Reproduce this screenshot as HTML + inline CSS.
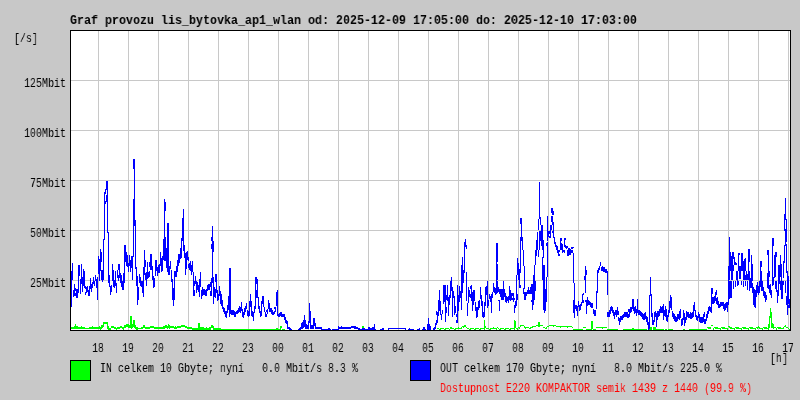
<!DOCTYPE html>
<html><head><meta charset="utf-8"><title>Graf provozu lis_bytovka_ap1_wlan</title>
<style>
html,body{margin:0;padding:0;background:#c8c8c8;}
#g{position:relative;width:800px;height:400px;background:#c8c8c8;overflow:hidden;}
#g svg{position:absolute;left:0;top:0;}
.t{position:absolute;font-family:"Liberation Mono",monospace;font-size:13.5px;line-height:20px;height:20px;white-space:pre;transform-origin:0 0;will-change:transform;}
</style></head><body>
<div id="g">
<svg width="800" height="400" viewBox="0 0 800 400" shape-rendering="crispEdges">
<rect x="70.5" y="30.5" width="720" height="300" fill="#fff" stroke="#000" stroke-width="1"/>
<path d="M71 80.5H790M71 130.5H790M71 180.5H790M71 230.5H790M71 280.5H790M98.5 31V330M128.5 31V330M158.5 31V330M188.5 31V330M218.5 31V330M248.5 31V330M278.5 31V330M308.5 31V330M338.5 31V330M368.5 31V330M398.5 31V330M428.5 31V330M458.5 31V330M488.5 31V330M518.5 31V330M548.5 31V330M578.5 31V330M608.5 31V330M638.5 31V330M668.5 31V330M698.5 31V330M728.5 31V330M758.5 31V330M788.5 31V330" stroke="#c8c8c8" stroke-width="1" fill="none"/>
<path d="M71.5 327V329M72.5 327V329M73.5 327V329M74.5 326V329M75.5 324V329M76.5 326V329M77.5 326V329M78.5 327V329M79.5 327V329M80.5 327V329M81.5 326V329M82.5 327V329M83.5 327V329M84.5 327V329M85.5 328V329M86.5 328V329M87.5 328V329M88.5 328V329M89.5 327V329M90.5 327V329M91.5 327V329M92.5 326V329M93.5 327V329M94.5 327V329M95.5 327V329M96.5 327V329M97.5 327V329M98.5 327V329M99.5 326V329M100.5 327V330M101.5 325V329M102.5 325V328M103.5 322V327M104.5 322V324M105.5 322V324M106.5 322V324M107.5 322V329M108.5 326V330M109.5 328V330M110.5 328V330M111.5 326V328M112.5 326V328M113.5 326V328M114.5 327V329M115.5 327V329M116.5 328V330M117.5 327V329M118.5 327V329M119.5 327V329M120.5 326V328M121.5 326V328M122.5 327V329M123.5 327V330M124.5 325V328M125.5 325V328M126.5 324V327M127.5 324V327M128.5 324V328M129.5 325V328M130.5 316V328M131.5 316V329M132.5 324V328M133.5 320V327M134.5 320V328M135.5 325V329M136.5 327V330M137.5 327V330M138.5 328V329M139.5 328V329M140.5 328V329M141.5 327V329M142.5 327V329M143.5 325V328M144.5 325V328M145.5 327V329M146.5 327V329M147.5 327V329M148.5 327V329M149.5 327V329M150.5 326V328M151.5 326V328M152.5 326V328M153.5 326V328M154.5 327V329M155.5 327V329M156.5 327V329M157.5 327V329M158.5 327V329M159.5 327V329M160.5 327V329M161.5 327V329M162.5 327V329M163.5 326V329M164.5 326V329M165.5 325V328M166.5 325V328M167.5 326V329M168.5 324V328M169.5 325V329M170.5 326V328M171.5 326V328M172.5 326V328M173.5 326V328M174.5 327V329M175.5 326V329M176.5 327V329M177.5 326V328M178.5 326V328M179.5 326V328M180.5 326V328M181.5 325V327M182.5 325V327M183.5 325V327M184.5 325V327M185.5 326V328M186.5 326V328M187.5 327V329M188.5 327V329M189.5 327V329M190.5 327V329M191.5 327V329M192.5 328V330M193.5 328V330M194.5 328V330M195.5 328V330M196.5 328V330M197.5 328V330M198.5 323V330M199.5 323V330M200.5 327V330M201.5 327V330M202.5 327V330M203.5 327V330M204.5 328V330M205.5 328V330M206.5 327V330M207.5 328V330M208.5 328V330M209.5 327V330M210.5 327V330M211.5 325V328M212.5 325V328M213.5 326V330M214.5 328V330M215.5 328V330M216.5 328V330M217.5 328V330M218.5 328V330M219.5 328V330M220.5 328V330M221.5 329V330M222.5 329V330M223.5 329V330M224.5 329V330M225.5 329V330M226.5 329V330M227.5 329V330M228.5 329V330M229.5 329V330M230.5 329V330M231.5 329V330M232.5 329V330M233.5 329V330M234.5 329V330M235.5 329V330M236.5 329V330M237.5 329V330M238.5 329V330M239.5 329V330M240.5 329V330M241.5 329V330M242.5 329V330M243.5 329V330M244.5 329V330M245.5 329V330M246.5 329V330M247.5 329V330M248.5 329V330M249.5 329V330M250.5 329V330M251.5 329V330M252.5 329V330M253.5 329V330M254.5 329V330M255.5 329V330M256.5 329V330M257.5 329V330M258.5 329V330M259.5 329V330M260.5 329V330M261.5 329V330M262.5 329V330M263.5 329V330M264.5 329V330M265.5 329V330M266.5 329V330M267.5 329V330M268.5 329V330M269.5 329V330M270.5 329V330M271.5 329V330M272.5 329V330M273.5 329V330M274.5 329V330M275.5 329V330M276.5 328V330M277.5 328V330M278.5 329V330M279.5 329V330M280.5 326V330M281.5 326V328M282.5 329V330M283.5 329V330M284.5 329V330M362.5 326V329M363.5 326V329M437.5 328V329M438.5 328V329M439.5 329V330M440.5 328V330M441.5 328V329M442.5 328V329M443.5 328V329M444.5 329V330M445.5 328V330M446.5 328V329M447.5 328V329M448.5 328V329M449.5 329V330M450.5 327V329M451.5 327V329M452.5 328V329M453.5 328V329M454.5 329V330M455.5 328V330M456.5 328V329M457.5 328V329M458.5 327V329M459.5 328V329M460.5 328V329M461.5 327V329M462.5 326V327M463.5 326V328M464.5 325V327M465.5 325V327M466.5 327V328M467.5 328V329M468.5 328V329M469.5 329V330M470.5 328V330M471.5 328V329M472.5 328V329M473.5 328V329M474.5 329V330M475.5 328V330M476.5 328V329M477.5 328V329M478.5 328V329M479.5 329V330M480.5 328V330M481.5 328V329M482.5 328V329M483.5 328V329M484.5 320V330M485.5 326V328M486.5 328V329M487.5 328V329M488.5 328V329M489.5 329V330M490.5 328V330M491.5 328V329M492.5 328V329M493.5 327V329M494.5 328V329M495.5 328V329M496.5 328V330M497.5 327V328M498.5 328V329M499.5 329V330M500.5 328V330M501.5 328V329M502.5 328V329M503.5 328V329M504.5 329V330M505.5 328V330M506.5 328V329M507.5 328V329M508.5 328V329M509.5 329V330M510.5 328V330M511.5 328V329M512.5 328V329M513.5 328V329M514.5 320V330M515.5 321V328M516.5 328V329M517.5 328V330M518.5 327V328M519.5 327V329M520.5 325V327M521.5 325V326M522.5 325V326M523.5 325V326M524.5 326V328M525.5 327V329M526.5 327V328M527.5 327V328M528.5 327V328M529.5 328V329M530.5 327V329M531.5 327V328M532.5 326V328M533.5 326V327M534.5 326V327M535.5 326V327M536.5 325V326M537.5 325V326M538.5 322V327M539.5 322V327M540.5 325V326M541.5 325V326M542.5 325V326M543.5 327V328M544.5 327V328M545.5 328V329M546.5 327V329M547.5 326V327M548.5 326V327M549.5 325V326M550.5 325V326M551.5 325V326M552.5 325V326M553.5 325V327M554.5 325V326M555.5 325V326M556.5 326V327M557.5 326V327M558.5 326V327M559.5 326V327M560.5 326V328M561.5 326V327M562.5 326V327M563.5 326V327M564.5 326V327M565.5 326V327M566.5 326V327M567.5 326V328M568.5 326V327M569.5 326V327M570.5 326V327M571.5 326V327M572.5 327V328M573.5 329V330M574.5 329V330M575.5 329V330M576.5 329V330M577.5 329V330M578.5 329V330M579.5 329V330M580.5 329V330M581.5 329V330M582.5 329V330M583.5 327V328M584.5 327V328M585.5 327V328M586.5 329V330M587.5 329V330M588.5 329V330M589.5 329V330M590.5 329V330M591.5 321V330M592.5 321V329M593.5 329V330M594.5 329V330M595.5 329V330M596.5 327V328M597.5 327V328M598.5 327V328M599.5 327V328M600.5 327V328M601.5 327V328M602.5 327V329M603.5 327V328M604.5 327V328M605.5 327V328M606.5 327V328M607.5 329V330M608.5 329V330M609.5 329V330M610.5 329V330M611.5 329V330M612.5 329V330M613.5 329V330M614.5 329V330M615.5 329V330M616.5 329V330M617.5 329V330M623.5 329V330M624.5 329V330M625.5 329V330M626.5 329V330M627.5 329V330M628.5 329V330M629.5 329V330M630.5 329V330M631.5 329V330M632.5 328V330M633.5 328V330M634.5 329V330M635.5 329V330M636.5 329V330M637.5 329V330M638.5 329V330M639.5 329V330M640.5 329V330M641.5 329V330M642.5 329V330M643.5 329V330M644.5 329V330M645.5 329V330M646.5 329V330M649.5 327V330M650.5 327V330M651.5 327V330M653.5 327V330M654.5 327V330M655.5 327V330M656.5 329V330M657.5 329V330M658.5 329V330M659.5 329V330M660.5 329V330M661.5 329V330M662.5 329V330M663.5 329V330M665.5 329V330M666.5 329V330M668.5 329V330M669.5 329V330M670.5 329V330M671.5 329V330M672.5 329V330M683.5 329V330M684.5 329V330M689.5 329V330M690.5 329V330M691.5 329V330M692.5 329V330M693.5 329V330M694.5 329V330M695.5 329V330M696.5 329V330M697.5 329V330M698.5 329V330M699.5 329V330M700.5 329V330M701.5 329V330M702.5 329V330M703.5 329V330M704.5 329V330M705.5 329V330M706.5 329V330M707.5 327V328M708.5 327V329M709.5 327V329M710.5 327V329M711.5 325V326M712.5 325V326M713.5 328V330M714.5 327V328M715.5 327V329M716.5 327V329M717.5 327V329M718.5 328V329M719.5 328V329M720.5 328V330M721.5 327V328M722.5 327V329M723.5 327V329M724.5 327V329M725.5 328V329M726.5 328V329M727.5 328V330M728.5 326V327M729.5 326V328M730.5 327V329M731.5 327V329M732.5 328V329M733.5 328V329M734.5 328V330M735.5 327V328M736.5 327V329M737.5 327V329M738.5 327V329M739.5 328V329M740.5 328V329M741.5 328V330M742.5 327V328M743.5 327V329M744.5 327V329M745.5 327V329M746.5 328V329M747.5 328V329M748.5 328V330M749.5 327V328M750.5 327V329M751.5 327V329M752.5 327V329M753.5 328V329M754.5 328V329M755.5 328V330M756.5 327V328M757.5 327V329M758.5 326V328M759.5 327V329M760.5 328V329M761.5 328V329M762.5 328V330M763.5 327V328M764.5 327V329M765.5 327V329M766.5 327V329M767.5 328V329M768.5 324V330M769.5 316V328M770.5 308V318M771.5 312V328M772.5 323V328M773.5 324V329M774.5 327V328M775.5 327V328M776.5 328V330M777.5 327V328M778.5 327V329M779.5 327V329M780.5 327V329M781.5 328V329M782.5 328V329M783.5 327V329M784.5 326V327M785.5 325V327M786.5 327V328M787.5 327V328M788.5 328V329M789.5 329V330" stroke="#0f0" stroke-width="1" fill="none"/>
<path d="M71.5 271V307M72.5 263V280M73.5 290V297M74.5 284V296M75.5 288V291M75.5 293V296M76.5 289V298M77.5 289V298M78.5 265V293M79.5 265V276M80.5 279V294M81.5 264V284M82.5 277V292M83.5 269V286M84.5 271V288M85.5 286V289M85.5 292V295M86.5 287V293M87.5 286V292M88.5 290V296M89.5 286V296M90.5 278V289M91.5 284V292M92.5 282V288M93.5 277V284M94.5 281V286M95.5 275V281M96.5 279V288M97.5 277V300M98.5 256V274M99.5 259V281M100.5 249V271M101.5 252V262M101.5 270V280M102.5 270V282M103.5 239V280M104.5 192V240M105.5 189V194M105.5 201V204M106.5 181V190M106.5 195V202M107.5 181V233M108.5 232V283M109.5 275V287M110.5 286V295M111.5 285V292M112.5 264V281M113.5 270V287M114.5 280V288M115.5 271V286M116.5 283V293M117.5 270V278M118.5 264V270M118.5 275V281M119.5 264V278M120.5 273V283M121.5 275V287M122.5 281V290M123.5 273V290M124.5 245V283M125.5 245V262M126.5 252V266M127.5 255V267M128.5 263V272M129.5 255V266M130.5 260V272M131.5 256V268M132.5 256V280M133.5 159V169M133.5 199V257M134.5 159V226M135.5 220V269M136.5 267V286M137.5 276V305M138.5 287V300M139.5 274V283M140.5 277V286M141.5 281V287M142.5 281V293M143.5 267V297M144.5 250V275M145.5 260V267M145.5 273V280M146.5 272V286M147.5 262V279M148.5 272V278M149.5 262V267M149.5 271V277M150.5 254V270M151.5 254V270M152.5 266V280M153.5 276V288M154.5 278V287M155.5 260V276M156.5 260V271M157.5 267V276M158.5 265V273M159.5 264V273M160.5 252V266M161.5 258V272M162.5 256V271M163.5 239V260M164.5 199V261M165.5 202V211M165.5 237V261M166.5 248V268M167.5 223V272M168.5 223V275M169.5 266V275M170.5 261V269M171.5 270V282M172.5 279V300M173.5 288V306M174.5 271V300M175.5 271V277M176.5 266V277M177.5 260V272M178.5 254V266M179.5 254V263M180.5 248V259M181.5 238V258M182.5 218V241M183.5 209V251M184.5 245V258M185.5 253V275M186.5 252V269M187.5 251V260M188.5 257V261M188.5 264V268M189.5 263V270M190.5 261V271M191.5 265V275M192.5 261V272M193.5 272V296M194.5 281V286M194.5 290V296M195.5 276V284M196.5 281V293M197.5 282V290M198.5 285V292M199.5 279V297M200.5 272V287M201.5 290V299M202.5 287V296M203.5 289V295M204.5 289V295M205.5 290V296M206.5 289V296M207.5 285V291M208.5 284V290M209.5 284V290M210.5 282V287M210.5 291V296M211.5 237V241M211.5 244V249M211.5 278V296M212.5 226V283M213.5 241V252M213.5 277V304M214.5 287V297M215.5 274V282M215.5 289V298M216.5 274V293M217.5 290V301M218.5 294V300M219.5 286V296M220.5 291V304M221.5 294V306M222.5 300V309M223.5 307V312M224.5 308V314M225.5 311V317M226.5 311V318M227.5 305V313M228.5 296V310M229.5 268V317M230.5 268V314M231.5 310V315M232.5 310V315M233.5 310V315M234.5 311V317M235.5 312V317M236.5 311V314M237.5 310V314M238.5 308V313M239.5 306V312M240.5 307V313M241.5 302V311M242.5 309V317M243.5 312V318M244.5 308V315M245.5 306V312M246.5 303V309M247.5 310V316M248.5 311V317M249.5 301V316M250.5 294V307M251.5 301V316M252.5 311V317M253.5 312V321M254.5 306V313M255.5 277V309M256.5 277V284M256.5 290V298M257.5 279V298M258.5 297V309M259.5 306V313M260.5 311V317M261.5 301V316M262.5 296V304M263.5 296V307M264.5 307V312M265.5 312V317M266.5 310V312M266.5 314V317M267.5 309V314M268.5 300V309M269.5 303V312M270.5 308V312M271.5 308V314M272.5 310V315M273.5 312V315M274.5 307V309M274.5 311V314M275.5 307V312M276.5 292V306M277.5 290V316M278.5 314V317M279.5 313V317M280.5 312V316M281.5 312V317M282.5 314V317M283.5 314V317M284.5 314V320M285.5 317V323M286.5 320V324M287.5 321V329M288.5 327V329M289.5 327V330M290.5 328V330M291.5 329V330M298.5 329V330M299.5 328V330M300.5 327V330M301.5 323V329M302.5 322V329M303.5 320V328M304.5 315V327M305.5 320V329M306.5 324V329M307.5 325V329M308.5 321V329M309.5 303V323M310.5 311V329M311.5 325V329M312.5 325V329M313.5 318V329M314.5 318V326M315.5 323V329M316.5 327V329M317.5 327V329M318.5 327V329M319.5 327V329M320.5 327V329M321.5 327V330M322.5 329V330M323.5 329V330M324.5 329V330M325.5 329V330M326.5 329V330M327.5 329V330M328.5 328V330M329.5 328V330M330.5 329V330M332.5 329V330M333.5 329V330M334.5 329V330M335.5 329V330M336.5 329V330M337.5 329V330M338.5 326V330M339.5 327V329M340.5 327V329M341.5 326V329M342.5 327V329M343.5 327V329M344.5 327V329M345.5 327V329M346.5 327V329M347.5 327V329M348.5 327V329M349.5 327V329M350.5 327V329M351.5 326V328M352.5 326V328M353.5 326V328M354.5 326V329M355.5 326V329M356.5 327V329M357.5 327V329M358.5 328V330M359.5 328V330M360.5 329V330M361.5 329V330M362.5 328V330M363.5 328V330M364.5 328V330M365.5 329V330M366.5 329V330M367.5 329V330M368.5 327V330M369.5 327V330M370.5 328V330M371.5 328V330M372.5 327V330M373.5 327V330M374.5 324V330M375.5 329V330M380.5 329V330M381.5 329V330M382.5 328V330M383.5 328V330M388.5 328V330M389.5 328V329M390.5 328V329M391.5 328V329M392.5 328V329M393.5 328V329M394.5 328V329M395.5 328V329M396.5 328V329M397.5 328V329M398.5 328V329M399.5 328V329M400.5 328V329M401.5 328V329M402.5 328V329M403.5 328V329M404.5 328V329M405.5 328V330M408.5 329V330M409.5 328V330M410.5 329V330M411.5 329V330M412.5 329V330M413.5 329V330M417.5 329V330M418.5 329V330M419.5 328V330M422.5 329V330M423.5 327V330M424.5 327V330M425.5 329V330M427.5 324V330M428.5 318V330M429.5 324V330M430.5 326V330M433.5 328V330M434.5 327V330M435.5 323V329M436.5 311V315M436.5 320V325M437.5 312V323M438.5 300V316M439.5 290V311M440.5 301V315M441.5 314V320M442.5 310V314M443.5 285V304M444.5 285V302M445.5 285V322M446.5 295V300M446.5 307V313M447.5 285V301M448.5 297V316M449.5 295V305M450.5 281V298M451.5 277V291M452.5 287V317M453.5 291V298M454.5 296V315M455.5 306V313M456.5 314V317M456.5 320V323M457.5 285V323M458.5 295V311M459.5 286V302M460.5 291V298M461.5 265V310M462.5 257V293M463.5 270V283M464.5 242V273M465.5 239V247M466.5 245V249M466.5 272V301M467.5 303V316M468.5 287V303M469.5 290V297M470.5 286V289M470.5 294V298M471.5 285V301M472.5 292V311M473.5 290V305M474.5 290V301M475.5 302V311M476.5 307V318M477.5 307V317M478.5 301V310M479.5 300V308M480.5 287V299M481.5 295V306M482.5 301V317M483.5 312V318M484.5 302V317M485.5 287V306M486.5 286V295M487.5 281V308M488.5 300V306M489.5 294V299M490.5 296V302M491.5 294V313M492.5 292V298M493.5 283V292M494.5 287V293M495.5 288V295M496.5 243V294M497.5 243V262M497.5 264V280M497.5 281V293M498.5 287V292M498.5 300V301M499.5 289V294M499.5 300V311M500.5 289V297M501.5 289V300M502.5 289V300M503.5 281V300M504.5 289V297M505.5 293V302M506.5 296V303M507.5 297V301M508.5 296V303M509.5 286V300M510.5 290V301M511.5 293V300M512.5 293V296M512.5 298V300M513.5 293V302M514.5 298V300M514.5 305V313M515.5 301V308M516.5 275V306M517.5 258V275M517.5 294V300M518.5 263V280M519.5 269V288M520.5 218V224M520.5 237V273M520.5 285V288M521.5 218V241M522.5 237V250M523.5 250V266M523.5 288V294M524.5 266V289M524.5 292V300M525.5 292V300M526.5 292V296M527.5 290V294M528.5 287V294M529.5 290V294M530.5 287V294M531.5 284V294M531.5 300V302M532.5 284V310M533.5 275V305M534.5 265V300M535.5 250V265M535.5 281V291M536.5 240V256M537.5 232V250M538.5 219V230M538.5 250V257M539.5 182V219M539.5 231V250M540.5 217V225M540.5 231V241M541.5 225V246M542.5 225V250M542.5 257V280M543.5 240V258M543.5 265V310M544.5 265V313M545.5 289V311M546.5 243V246M546.5 277V302M547.5 216V241M547.5 242V277M548.5 231V237M549.5 231V234M549.5 236V238M550.5 225V238M551.5 208V213M551.5 216V222M551.5 225V230M552.5 208V215M552.5 216V225M552.5 231V233M553.5 211V215M553.5 222V238M554.5 237V244M555.5 242V247M556.5 245V250M557.5 246V253M558.5 250V256M559.5 250V252M559.5 254V256M560.5 238V250M561.5 238V241M561.5 243V250M562.5 244V253M563.5 250V252M564.5 238V247M564.5 250V253M565.5 238V240M565.5 245V248M566.5 246V249M567.5 246V248M567.5 250V256M568.5 248V256M569.5 248V255M570.5 249V255M571.5 247V249M571.5 250V253M572.5 247V249M572.5 250V253M573.5 247V248M573.5 253V283M573.5 300V313M574.5 283V318M575.5 305V309M576.5 305V311M577.5 306V316M578.5 301V307M579.5 305V311M580.5 304V310M581.5 302V306M582.5 294V303M583.5 293V295M583.5 300V303M584.5 276V280M585.5 266V293M585.5 300V302M586.5 270V275M586.5 300V314M587.5 297V306M588.5 300V305M589.5 301V305M590.5 302V307M591.5 303V308M592.5 303V308M593.5 309V314M594.5 310V316M595.5 310V316M596.5 291V309M597.5 270V293M598.5 268V273M599.5 266V270M600.5 262V266M601.5 267V271M602.5 266V271M603.5 267V272M604.5 267V272M605.5 269V273M606.5 269V273M607.5 271V295M607.5 312V317M608.5 312V317M609.5 310V317M610.5 307V314M611.5 306V311M612.5 307V313M613.5 310V316M614.5 312V319M615.5 310V315M616.5 310V317M617.5 307V315M618.5 311V315M618.5 317V321M619.5 318V325M620.5 316V322M621.5 316V320M622.5 315V320M623.5 314V318M624.5 312V317M625.5 312V317M626.5 312V317M627.5 312V318M628.5 309V312M628.5 314V318M629.5 309V317M630.5 307V313M631.5 307V312M632.5 299V309M633.5 299V311M634.5 307V314M635.5 306V313M636.5 309V316M637.5 299V313M638.5 310V315M639.5 310V315M640.5 311V316M641.5 312V317M642.5 313V319M643.5 314V320M644.5 313V320M645.5 312V319M646.5 316V322M647.5 317V325M648.5 322V330M649.5 295V329M650.5 277V296M651.5 294V317M652.5 313V325M653.5 320V325M654.5 312V322M655.5 311V317M656.5 313V327M657.5 311V320M658.5 311V317M659.5 309V316M660.5 306V313M661.5 307V313M662.5 306V313M663.5 304V320M664.5 310V316M665.5 306V317M666.5 309V321M667.5 315V322M668.5 310V317M669.5 301V313M670.5 295V308M671.5 297V310M672.5 311V317M673.5 313V319M674.5 314V321M675.5 316V322M676.5 317V322M677.5 314V321M678.5 314V319M679.5 311V320M680.5 309V318M681.5 319V326M682.5 318V325M683.5 310V320M684.5 313V326M685.5 317V323M686.5 311V320M687.5 312V317M688.5 312V318M689.5 314V318M690.5 312V319M691.5 313V319M692.5 312V318M693.5 305V317M694.5 302V311M695.5 310V317M696.5 315V320M697.5 316V321M698.5 312V318M699.5 314V322M700.5 317V323M701.5 317V323M702.5 317V323M703.5 314V322M704.5 312V317M704.5 319V324M705.5 319V324M706.5 314V321M707.5 311V318M708.5 307V314M709.5 306V311M710.5 307V312M711.5 288V313M712.5 288V294M712.5 297V304M713.5 297V304M714.5 296V303M715.5 292V301M716.5 290V295M716.5 298V304M717.5 297V305M718.5 301V308M719.5 304V308M720.5 302V307M721.5 302V306M722.5 302V306M723.5 302V309M724.5 304V311M725.5 303V310M726.5 302V308M727.5 302V312M728.5 266V305M729.5 237V280M729.5 281V299M730.5 252V271M730.5 281V298M731.5 256V280M731.5 281V298M732.5 252V280M733.5 252V259M733.5 265V271M733.5 281V289M734.5 257V265M735.5 262V265M735.5 281V287M736.5 263V265M736.5 271V280M737.5 271V286M738.5 253V271M738.5 281V285M739.5 253V255M739.5 266V279M740.5 266V279M741.5 253V271M741.5 281V285M742.5 253V271M743.5 261V280M743.5 281V287M744.5 259V280M745.5 258V271M745.5 275V280M745.5 281V286M746.5 271V280M747.5 274V280M747.5 281V290M748.5 249V280M749.5 249V262M749.5 271V291M750.5 278V288M751.5 255V288M752.5 264V281M752.5 283V293M753.5 287V305M754.5 289V307M755.5 290V308M756.5 285V297M757.5 282V293M758.5 286V295M759.5 281V293M760.5 261V287M761.5 261V267M761.5 271V291M762.5 281V291M763.5 287V296M764.5 291V298M765.5 292V302M766.5 295V300M767.5 250V255M767.5 273V288M768.5 250V289M769.5 271V277M769.5 285V293M770.5 284V295M771.5 290V298M772.5 238V286M773.5 238V246M773.5 277V285M774.5 255V278M775.5 252V277M775.5 281V289M776.5 252V257M776.5 281V292M777.5 290V303M778.5 265V296M779.5 265V284M780.5 255V277M780.5 281V290M781.5 264V299M782.5 281V299M783.5 261V278M783.5 281V285M784.5 214V231M784.5 245V263M785.5 198V220M785.5 229V246M785.5 281V293M786.5 219V242M786.5 244V273M786.5 296V305M787.5 271V315M788.5 276V304M788.5 305V308M789.5 299V308" stroke="#00f" stroke-width="1" fill="none"/>
<rect x="70.5" y="30.5" width="720" height="300" fill="none" stroke="#000" stroke-width="1"/>
<rect x="70.5" y="360.5" width="20" height="20" fill="#0f0" stroke="#000" stroke-width="1"/>
<rect x="410.5" y="360.5" width="20" height="20" fill="#00f" stroke="#000" stroke-width="1"/>
</svg>
<div class="t" style="left:70px;top:11px;color:#000;font-weight:bold;transform:scaleX(0.86397)">Graf provozu lis_bytovka_ap1_wlan od: 2025-12-09 17:05:00 do: 2025-12-10 17:03:00</div>
<div class="t" style="left:14px;top:29px;color:#000;font-weight:normal;transform:scaleX(0.74055)">[/s]</div>
<div class="t" style="left:24px;top:74px;color:#000;font-weight:normal;transform:scaleX(0.74055)">125Mbit</div>
<div class="t" style="left:24px;top:124px;color:#000;font-weight:normal;transform:scaleX(0.74055)">100Mbit</div>
<div class="t" style="left:30px;top:174px;color:#000;font-weight:normal;transform:scaleX(0.74055)">75Mbit</div>
<div class="t" style="left:30px;top:224px;color:#000;font-weight:normal;transform:scaleX(0.74055)">50Mbit</div>
<div class="t" style="left:30px;top:274px;color:#000;font-weight:normal;transform:scaleX(0.74055)">25Mbit</div>
<div class="t" style="left:92px;top:339px;color:#000;font-weight:normal;transform:scaleX(0.74055)">18</div>
<div class="t" style="left:122px;top:339px;color:#000;font-weight:normal;transform:scaleX(0.74055)">19</div>
<div class="t" style="left:152px;top:339px;color:#000;font-weight:normal;transform:scaleX(0.74055)">20</div>
<div class="t" style="left:182px;top:339px;color:#000;font-weight:normal;transform:scaleX(0.74055)">21</div>
<div class="t" style="left:212px;top:339px;color:#000;font-weight:normal;transform:scaleX(0.74055)">22</div>
<div class="t" style="left:242px;top:339px;color:#000;font-weight:normal;transform:scaleX(0.74055)">23</div>
<div class="t" style="left:272px;top:339px;color:#000;font-weight:normal;transform:scaleX(0.74055)">00</div>
<div class="t" style="left:302px;top:339px;color:#000;font-weight:normal;transform:scaleX(0.74055)">01</div>
<div class="t" style="left:332px;top:339px;color:#000;font-weight:normal;transform:scaleX(0.74055)">02</div>
<div class="t" style="left:362px;top:339px;color:#000;font-weight:normal;transform:scaleX(0.74055)">03</div>
<div class="t" style="left:392px;top:339px;color:#000;font-weight:normal;transform:scaleX(0.74055)">04</div>
<div class="t" style="left:422px;top:339px;color:#000;font-weight:normal;transform:scaleX(0.74055)">05</div>
<div class="t" style="left:452px;top:339px;color:#000;font-weight:normal;transform:scaleX(0.74055)">06</div>
<div class="t" style="left:482px;top:339px;color:#000;font-weight:normal;transform:scaleX(0.74055)">07</div>
<div class="t" style="left:512px;top:339px;color:#000;font-weight:normal;transform:scaleX(0.74055)">08</div>
<div class="t" style="left:542px;top:339px;color:#000;font-weight:normal;transform:scaleX(0.74055)">09</div>
<div class="t" style="left:572px;top:339px;color:#000;font-weight:normal;transform:scaleX(0.74055)">10</div>
<div class="t" style="left:602px;top:339px;color:#000;font-weight:normal;transform:scaleX(0.74055)">11</div>
<div class="t" style="left:632px;top:339px;color:#000;font-weight:normal;transform:scaleX(0.74055)">12</div>
<div class="t" style="left:662px;top:339px;color:#000;font-weight:normal;transform:scaleX(0.74055)">13</div>
<div class="t" style="left:692px;top:339px;color:#000;font-weight:normal;transform:scaleX(0.74055)">14</div>
<div class="t" style="left:722px;top:339px;color:#000;font-weight:normal;transform:scaleX(0.74055)">15</div>
<div class="t" style="left:752px;top:339px;color:#000;font-weight:normal;transform:scaleX(0.74055)">16</div>
<div class="t" style="left:782px;top:339px;color:#000;font-weight:normal;transform:scaleX(0.74055)">17</div>
<div class="t" style="left:770px;top:349px;color:#000;font-weight:normal;transform:scaleX(0.74055)">[h]</div>
<div class="t" style="left:100px;top:359px;color:#000;font-weight:normal;transform:scaleX(0.74055)">IN celkem 10 Gbyte; nyní   0.0 Mbit/s 8.3 %</div>
<div class="t" style="left:440px;top:359px;color:#000;font-weight:normal;transform:scaleX(0.74055)">OUT celkem 170 Gbyte; nyní   8.0 Mbit/s 225.0 %</div>
<div class="t" style="left:440px;top:379px;color:#f00;font-weight:normal;transform:scaleX(0.74055)">Dostupnost E220 KOMPAKTOR semik 1439 z 1440 (99.9 %)</div>
</div>
</body></html>
